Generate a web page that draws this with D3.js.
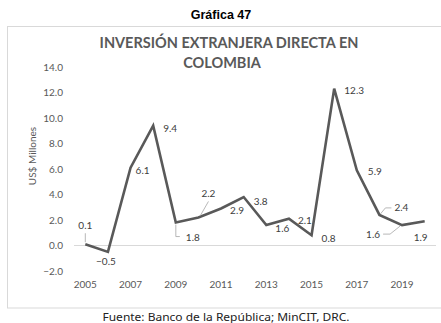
<!DOCTYPE html>
<html><head><meta charset="utf-8">
<script src="https://cdn.jsdelivr.net/npm/d3@7"></script>
<style>body{margin:0;background:#fff;}svg{display:block;}</style>
</head><body>
<script>
const years = [2005,2006,2007,2008,2009,2010,2011,2012,2013,2014,2015,2016,2017,2018,2019,2020];
const values = [0.1,-0.5,6.1,9.4,1.8,2.2,2.9,3.8,1.6,2.1,0.8,12.3,5.9,2.4,1.6,1.9];
const yTicks = [-2,0,2,4,6,8,10,12,14];
const xTickYears = [2005,2007,2009,2011,2013,2015,2017,2019];
const figTitle = "Gráfica 47";
const titleLines = ["INVERSIÓN EXTRANJERA DIRECTA EN","COLOMBIA"];
const yTitle = "US$ Millones";
const source = "Fuente: Banco de la República; MinCIT, DRC.";
// label layout (offsets from point, px) and leader lines
const labelOffsets = [[0,-19],[-2,10],[12,3],[17,3],[17,15],[10,-24],[16,2],[17,4],[16,3],[16,2],[17,3],[20,2],[18,1],[22,-7],[-29,9],[-4,16]];
const leaders = {0:[[0,-2],[0,-11]],4:[[0,2],[0,14],[4,14]],5:[[2,-2],[10,-16]],13:[[1,-1],[6,-7],[12,-7]],14:[[-2,1],[-12,9],[-19,9]]};

const W=441,H=323;
const svg=d3.select("body").append("svg").attr("width",W).attr("height",H);
const font="Lato, 'Open Sans', sans-serif";

svg.append("rect").attr("x",7.5).attr("y",26.5).attr("width",440).attr("height",281.5)
  .attr("fill","none").attr("stroke","#d9d9d9").attr("stroke-width",1);

svg.append("text").attr("x",221).attr("y",19).attr("text-anchor","middle")
  .attr("font-family","'Liberation Sans', Arial, sans-serif").attr("font-weight","bold")
  .attr("font-size",12.5).attr("fill","#000").text(figTitle);

titleLines.forEach((t,i)=>{
  svg.append("text").attr("x",i==0?229:222).attr("y",48+i*20).attr("text-anchor","middle")
    .attr("font-family",font).attr("font-weight","bold").attr("font-size",14.5)
    .attr("fill","#595959").text(t);
});

const x=d3.scaleBand().domain(years).range([74,436]);
const y=d3.scaleLinear().domain([-2,14]).range([271,67]);
const cx=d=>x(d)+x.bandwidth()/2;

// zero line
svg.append("line").attr("x1",74).attr("x2",436).attr("y1",y(0)).attr("y2",y(0))
  .attr("stroke","#d9d9d9").attr("stroke-width",1);

// y axis
const ya=svg.append("g").attr("transform","translate(66,0)")
  .call(d3.axisLeft(y).tickValues(yTicks).tickFormat(d3.format(".1f")).tickSize(0));
ya.select(".domain").remove();
ya.selectAll("text").attr("font-family",font).attr("font-size",10).attr("fill","#595959").attr("dx",0);

// x axis labels
const xa=svg.append("g").attr("transform","translate(0,271)")
  .call(d3.axisBottom(x).tickValues(xTickYears).tickSize(0));
xa.select(".domain").remove();
xa.selectAll("text").attr("font-family",font).attr("font-size",10).attr("fill","#595959").attr("dy",14);

// y title
svg.append("text").attr("transform","translate(36,156) rotate(-90)").attr("text-anchor","middle")
  .attr("font-family",font).attr("font-size",10).attr("fill","#595959").text(yTitle);

// line
svg.append("path").datum(values.map((v,i)=>[cx(years[i]),y(v)]))
  .attr("d",d3.line()).attr("fill","none").attr("stroke","#595959").attr("stroke-width",2.6)
  .attr("stroke-linejoin","miter");

// leaders
Object.entries(leaders).forEach(([i,pts])=>{
  const px=cx(years[+i]),py=y(values[+i]);
  svg.append("path").datum(pts.map(p=>[px+p[0],py+p[1]])).attr("d",d3.line())
    .attr("fill","none").attr("stroke","#a6a6a6").attr("stroke-width",0.8);
});

// labels
svg.append("g").selectAll("text").data(values).join("text")
  .attr("x",(v,i)=>cx(years[i])+labelOffsets[i][0])
  .attr("y",(v,i)=>y(v)+labelOffsets[i][1])
  .attr("dy","0.35em").attr("text-anchor","middle")
  .attr("font-family",font).attr("font-size",10).attr("fill","#404040")
  .text(v=>d3.format(".1f")(v));

svg.append("text").attr("x",226).attr("y",321).attr("text-anchor","middle")
  .attr("font-family","'Noto Sans', sans-serif").attr("font-size",10).attr("fill","#222")
  .attr("textLength",247).attr("lengthAdjust","spacingAndGlyphs")
  .text(source);
</script>
</body></html>
